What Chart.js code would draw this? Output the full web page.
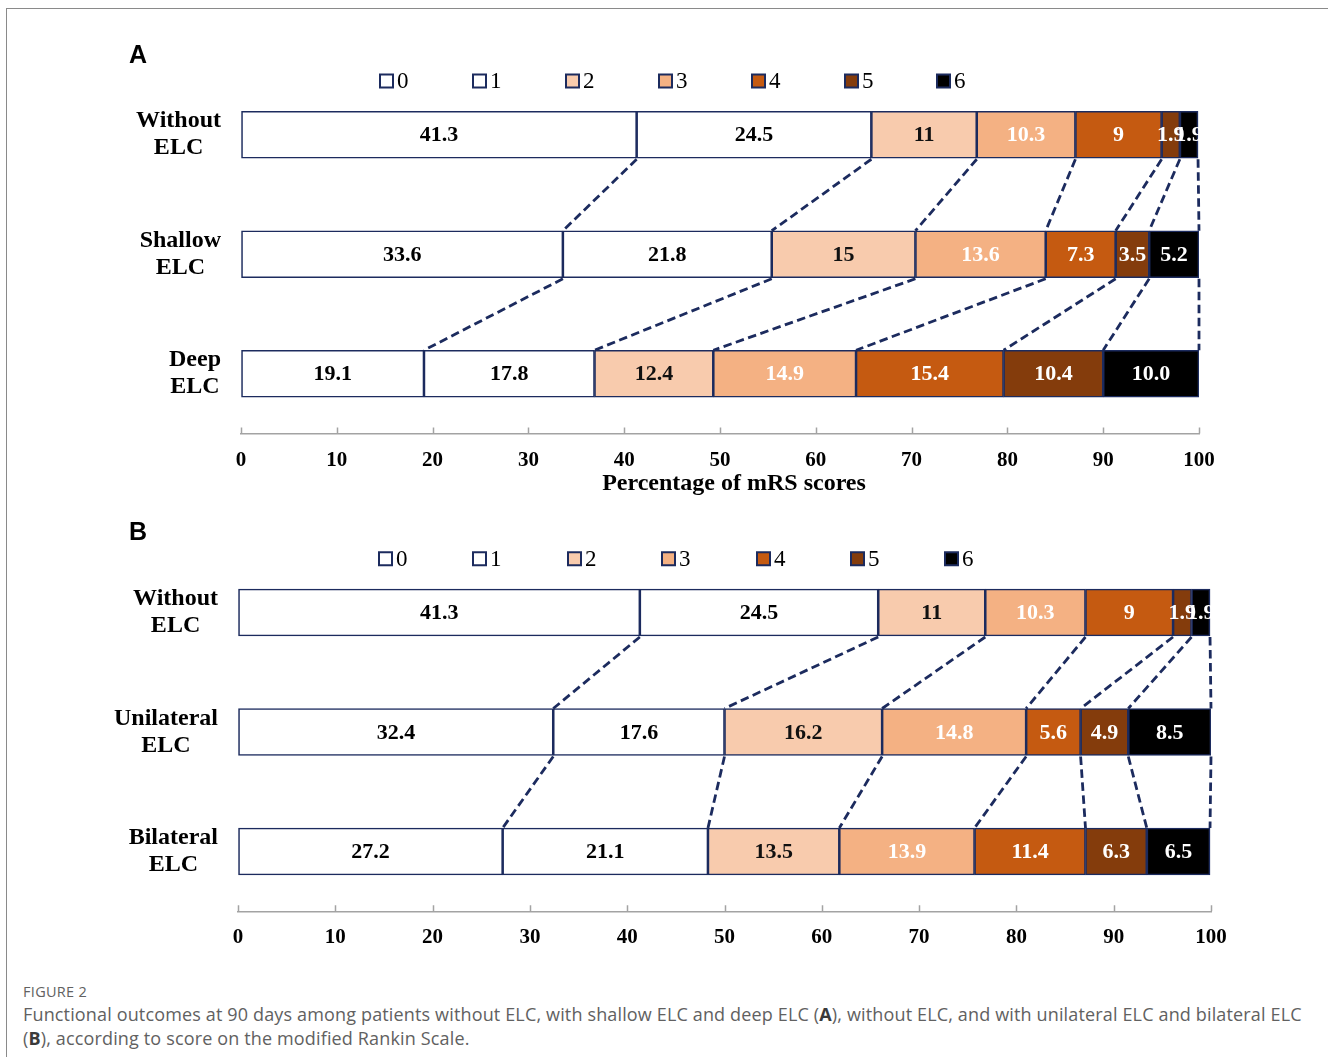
<!DOCTYPE html>
<html>
<head>
<meta charset="utf-8">
<title>Functional outcomes at 90 days</title>
<script src="https://cdn.jsdelivr.net/npm/chart.js@4/dist/chart.umd.min.js"></script>
<style>
  html, body { margin: 0; padding: 0; background: #fff; }
  #page { position: relative; width: 1328px; height: 1057px; overflow: hidden; background: #fff; }
  #frame { position: absolute; left: 6px; top: 8px; width: 1330px; height: 1060px;
           border-top: 1px solid #8a8a8a; border-left: 1px solid #8a8a8a; }
  .panel { position: absolute; left: 0; }
  #panelA { top: 0; }
  #panelB { top: 500px; }
  .tag { position: absolute; left: 129px; font: bold 25px "Liberation Sans", Arial, sans-serif;
         color: #000; line-height: 25px; }
  #caption { position: absolute; left: 23px; top: 981px; color: #616161;
             font-family: "Open Sans", "Noto Sans", sans-serif; }
  #caption .fig { font-size: 14.5px; letter-spacing: 0.3px; line-height: 21px; }
  #caption .line { font-size: 18px; line-height: 24px; white-space: nowrap; letter-spacing: 0.15px; }
  #caption b { font-weight: 700; color: #3a3a3a; }
</style>
</head>
<body>
<div id="page">
  <div id="frame"></div>
  <canvas id="panelA" class="panel" width="1328" height="500"></canvas>
  <canvas id="panelB" class="panel" width="1328" height="470"></canvas>
  <div class="tag" style="top:42px">A</div>
  <div class="tag" style="top:519px">B</div>
  <div id="caption">
    <div class="fig">FIGURE 2</div>
    <div class="line">Functional outcomes at 90 days among patients without ELC, with shallow ELC and deep ELC (<b>A</b>), without ELC, and with unilateral ELC and bilateral ELC</div>
    <div class="line">(<b>B</b>), according to score on the modified Rankin Scale.</div>
  </div>
</div>
<script>
// mRS score categories (legend order, stacked left to right)
const scores = ['0', '1', '2', '3', '4', '5', '6'];

// Percentage axis tick labels
const percentTicks = [0, 10, 20, 30, 40, 50, 60, 70, 80, 90, 100];

// Panel A: ELC depth
const groupsA = ['Without ELC', 'Shallow ELC', 'Deep ELC'];
const withoutA = [41.3, 24.5, 11, 10.3, 9, 1.9, 1.9];
const shallowA = [33.6, 21.8, 15, 13.6, 7.3, 3.5, 5.2];
const deepA    = [19.1, 17.8, 12.4, 14.9, 15.4, 10.4, 10.0];

// Panel B: ELC laterality
const groupsB     = ['Without ELC', 'Unilateral ELC', 'Bilateral ELC'];
const withoutB    = [41.3, 24.5, 11, 10.3, 9, 1.9, 1.9];
const unilateralB = [32.4, 17.6, 16.2, 14.8, 5.6, 4.9, 8.5];
const bilateralB  = [27.2, 21.1, 13.5, 13.9, 11.4, 6.3, 6.5];

// Groups whose values are printed with one decimal place
const oneDecimalGroups = ['Deep ELC'];

// ---- styling ----
const NAVY = '#1c2b5e';
const AXIS_GREY = '#a3a3a3';
const scoreFill = ['#ffffff', '#ffffff', '#f8cbad', '#f4b183', '#c55a11', '#843c0c', '#000000'];
const scoreText = ['#000000', '#000000', '#111111', '#ffffff', '#ffffff', '#ffffff', '#ffffff'];
const SERIF = '"Liberation Serif", "Times New Roman", serif';

function buildDatasets(rows) {
  return scores.map((s, k) => ({
    label: s,
    data: rows.map(r => r[k]),
    backgroundColor: scoreFill[k],
    borderColor: NAVY,
    borderWidth: 1.6,
    borderSkipped: false,
    barThickness: 47
  }));
}

// Draws dashed connectors, segment values, group labels, axis ticks, axis title and legend
const decorPlugin = {
  id: 'decor',
  afterDatasetsDraw(chart) {
    const ctx = chart.ctx;
    const metas = chart.getSortedVisibleDatasetMetas();
    const n = chart.data.labels.length;

    // dashed connectors from each cumulative boundary to the next bar
    ctx.save();
    ctx.strokeStyle = NAVY;
    ctx.lineWidth = 2.8;
    ctx.setLineDash([8.5, 4.5]);
    for (let i = 0; i < n - 1; i++) {
      metas.forEach(m => {
        const a = m.data[i].getProps(['x', 'y', 'height'], true);
        const b = m.data[i + 1].getProps(['x', 'y', 'height'], true);
        ctx.beginPath();
        ctx.moveTo(a.x, a.y + a.height / 2 + 1);
        ctx.lineTo(b.x, b.y - b.height / 2);
        ctx.stroke();
      });
    }
    ctx.restore();

    // value labels centred in each segment
    ctx.save();
    ctx.font = 'bold 22px ' + SERIF;
    ctx.textAlign = 'center';
    ctx.textBaseline = 'middle';
    metas.forEach(m => {
      const ds = chart.data.datasets[m.index];
      m.data.forEach((el, i) => {
        const p = el.getProps(['x', 'y', 'base'], true);
        const v = ds.data[i];
        const group = chart.data.labels[i];
        const txt = oneDecimalGroups.includes(group) ? v.toFixed(1) : String(v);
        ctx.fillStyle = scoreText[m.index];
        ctx.fillText(txt, (p.x + p.base) / 2, p.y + 1);
      });
    });
    ctx.restore();
  },
  afterDraw(chart, args, opts) {
    const ctx = chart.ctx;
    const area = chart.chartArea;
    const xs = chart.scales.x;
    const ys = chart.scales.y;

    // group labels: two centred lines, block right-aligned beside the bars
    ctx.save();
    ctx.font = 'bold 24px ' + SERIF;
    ctx.fillStyle = '#000';
    ctx.textAlign = 'center';
    ctx.textBaseline = 'middle';
    chart.data.labels.forEach((g, i) => {
      const lines = g.split(' ');
      const w = Math.max(...lines.map(l => ctx.measureText(l).width));
      const cx = area.left - 20 - w / 2;
      const cy = ys.getPixelForValue(i);
      const lh = 27;
      lines.forEach((l, j) => {
        ctx.fillText(l, cx, cy + (j - (lines.length - 1) / 2) * lh);
      });
    });
    ctx.restore();

    // small tick marks rising from the axis line
    ctx.save();
    ctx.strokeStyle = AXIS_GREY;
    ctx.lineWidth = 1.5;
    xs.ticks.forEach(t => {
      const px = Math.round(xs.getPixelForValue(t.value)) + 0.5;
      ctx.beginPath();
      ctx.moveTo(px, area.bottom);
      ctx.lineTo(px, area.bottom - 6);
      ctx.stroke();
    });
    ctx.restore();

    // axis title under the tick labels
    if (opts.title) {
      ctx.save();
      ctx.font = 'bold 24px ' + SERIF;
      ctx.fillStyle = '#000';
      ctx.textAlign = 'center';
      ctx.textBaseline = 'middle';
      ctx.fillText(opts.title, (area.left + area.right) / 2 + 14, area.bottom + 50);
      ctx.restore();
    }

    // legend row
    ctx.save();
    const cy = area.top + 6;
    ctx.font = '23px ' + SERIF;
    ctx.textBaseline = 'middle';
    ctx.textAlign = 'left';
    chart.data.datasets.forEach((ds, k) => {
      const bx = Math.round(area.left + area.width * (0.145 + 0.097 * k));
      ctx.fillStyle = ds.backgroundColor;
      ctx.fillRect(bx, cy - 6.5, 13, 13);
      ctx.strokeStyle = NAVY;
      ctx.lineWidth = 2;
      ctx.strokeRect(bx, cy - 6.5, 13, 13);
      ctx.fillStyle = '#000';
      ctx.fillText(ds.label, bx + 17, cy + 1);
    });
    ctx.restore();
  }
};

function makeChart(canvasId, groups, rows, cfg) {
  return new Chart(document.getElementById(canvasId), {
    type: 'bar',
    data: { labels: groups, datasets: buildDatasets(rows) },
    plugins: [decorPlugin],
    options: {
      indexAxis: 'y',
      responsive: false,
      animation: false,
      events: [],
      layout: { padding: { left: 0, right: cfg.right, top: cfg.top, bottom: cfg.bottom } },
      plugins: {
        legend: { display: false },
        tooltip: { enabled: false },
        decor: { title: cfg.title || '' }
      },
      scales: {
        x: {
          stacked: true,
          min: 0,
          max: 100,
          afterBuildTicks: s => { s.ticks = percentTicks.map(v => ({ value: v })); },
          afterFit: s => { s.height = cfg.xHeight; },
          grid: { drawOnChartArea: false, drawTicks: false },
          border: { display: true, color: AXIS_GREY, width: 1.5 },
          ticks: {
            padding: cfg.tickPad,
            color: '#000',
            font: { family: SERIF, size: 21, weight: 'bold' },
            maxRotation: 0,
            autoSkip: false,
            callback: v => String(v)
          }
        },
        y: {
          stacked: true,
          afterFit: s => { s.width = cfg.left; },
          grid: { display: false, drawTicks: false },
          border: { display: false },
          ticks: { display: false }
        }
      }
    }
  });
}

makeChart('panelA', groupsA, [withoutA, shallowA, deepA],
  { left: 241, right: 129, top: 75, bottom: 4.5, xHeight: 62, tickPad: 14, title: 'Percentage of mRS scores' });
makeChart('panelB', groupsB, [withoutB, unilateralB, bilateralB],
  { left: 238, right: 117, top: 52.75, bottom: 18.75, xHeight: 40, tickPad: 14 });
</script>
</body>
</html>
